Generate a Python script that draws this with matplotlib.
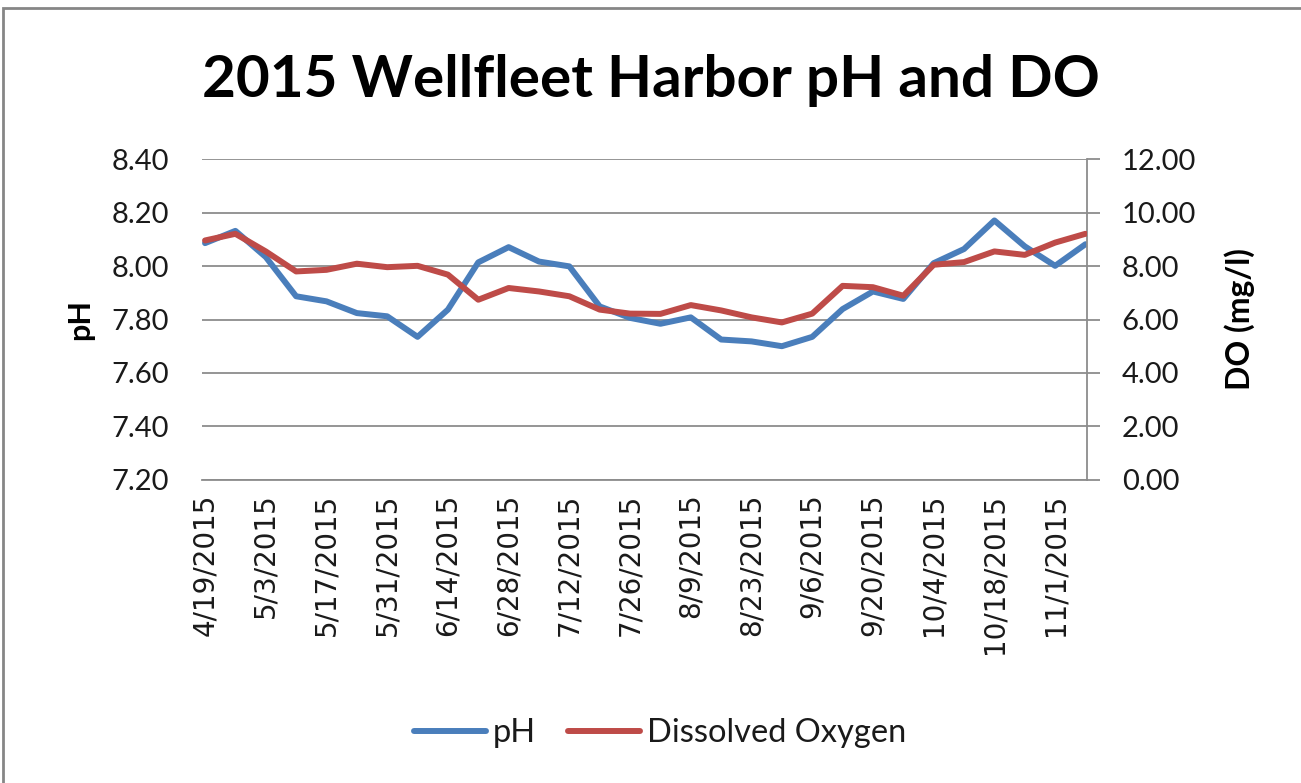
import matplotlib
matplotlib.use("Agg")
import matplotlib.pyplot as plt
from matplotlib.patches import Rectangle
from matplotlib.lines import Line2D

dates = ["4/19/2015", "4/26/2015", "5/3/2015", "5/10/2015", "5/17/2015", "5/24/2015",
         "5/31/2015", "6/7/2015", "6/14/2015", "6/21/2015", "6/28/2015", "7/5/2015",
         "7/12/2015", "7/19/2015", "7/26/2015", "8/2/2015", "8/9/2015", "8/16/2015",
         "8/23/2015", "8/30/2015", "9/6/2015", "9/13/2015", "9/20/2015", "9/27/2015",
         "10/4/2015", "10/11/2015", "10/18/2015", "10/25/2015", "11/1/2015", "11/8/2015"]

ph = [8.086, 8.132, 8.034, 7.887, 7.868, 7.824, 7.812, 7.735, 7.837, 8.014,
      8.071, 8.017, 7.999, 7.849, 7.806, 7.784, 7.808, 7.725, 7.718, 7.700,
      7.735, 7.839, 7.905, 7.877, 8.011, 8.064, 8.171, 8.074, 8.001, 8.082]

do = [8.96, 9.21, 8.55, 7.80, 7.86, 8.09, 7.96, 8.01, 7.68, 6.74,
      7.18, 7.05, 6.87, 6.37, 6.22, 6.21, 6.54, 6.34, 6.08, 5.89,
      6.22, 7.26, 7.21, 6.89, 8.05, 8.15, 8.55, 8.42, 8.88, 9.21]

ph_ticks = [7.20, 7.40, 7.60, 7.80, 8.00, 8.20, 8.40]
do_ticks = [0, 2, 4, 6, 8, 10, 12]

title = "2015 Wellfleet Harbor pH and DO"
BLUE = "#4A7EBB"
RED = "#BE4B48"
GRID = "#8C8C8C"
FONT = "Lato"

W, H = 1301, 783
fig = plt.figure(figsize=(W / 100, H / 100), dpi=100)

# outer chart frame
fig.patches.append(Rectangle((3 / W, -0.01), (W + 10) / W, 1 - 8 / H + 0.01,
                             transform=fig.transFigure, fill=False,
                             edgecolor="#868686", linewidth=2.0))

left, right, top, bottom = 202 / W, 1087 / W, 1 - 159.3 / H, 1 - 479.7 / H
ax = fig.add_axes([left, bottom, right - left, top - bottom])
ax2 = ax.twinx()

x = list(range(len(dates)))
ax.plot(x, ph, color=BLUE, lw=4.3, solid_joinstyle="round", solid_capstyle="round", zorder=3)
ax2.plot(x, do, color=RED, lw=4.3, solid_joinstyle="round", solid_capstyle="round", zorder=3)

ax.set_xlim(-0.1, 29.05)
ax.set_ylim(7.2, 8.4)
ax2.set_ylim(0, 12)

ax.set_yticks(ph_ticks)
ax.set_yticklabels([f"{v:.2f}" for v in ph_ticks], fontsize=21, family=FONT, color="#1a1a1a")
ax2.set_yticks(do_ticks)
ax2.set_yticklabels([f"{v:.2f}" for v in do_ticks], fontsize=21, family=FONT, color="#1a1a1a")

ax.set_xticks(x[::2])
ax.set_xticklabels(dates[::2], rotation=90, fontsize=20, family="DejaVu Sans", color="#1a1a1a")

ax.grid(axis="y", color=GRID, lw=1.3)
ax.set_axisbelow(True)
for s in ["top", "left", "right"]:
    ax.spines[s].set_visible(False)
for s in ["top", "left", "bottom"]:
    ax2.spines[s].set_visible(False)
ax.spines["bottom"].set_color(GRID)
ax.spines["bottom"].set_linewidth(1.3)
ax2.spines["right"].set_color(GRID)
ax2.spines["right"].set_linewidth(1.3)

ax.tick_params(axis="y", length=0, pad=24)
ax.tick_params(axis="x", length=0, pad=10)
ax2.tick_params(axis="y", length=9, width=1.3, color=GRID, direction="out", pad=16)

ax.set_ylabel("pH", fontsize=22, family=FONT, fontweight="bold", labelpad=12)
ax2.set_ylabel("DO (mg/l)", fontsize=23, family=FONT, fontweight="bold", labelpad=20)

fig.text(651 / W, 1 - 97 / H, title, ha="center", va="baseline",
         fontsize=42, family=FONT, fontweight="bold", color="black")

handles = [Line2D([0], [0], color=BLUE, lw=4.3, solid_capstyle="round"),
           Line2D([0], [0], color=RED, lw=4.3, solid_capstyle="round")]
leg = fig.legend(handles, ["pH", "Dissolved Oxygen"], loc="center",
                 bbox_to_anchor=(660 / W, 1 - 733 / H), ncol=2, frameon=False,
                 prop={"family": FONT, "size": 23.5}, handlelength=2.2,
                 handletextpad=0.2, columnspacing=1.0)
for t in leg.get_texts():
    t.set_color("#1a1a1a")

fig.savefig("out.png", dpi=100, facecolor="white")
